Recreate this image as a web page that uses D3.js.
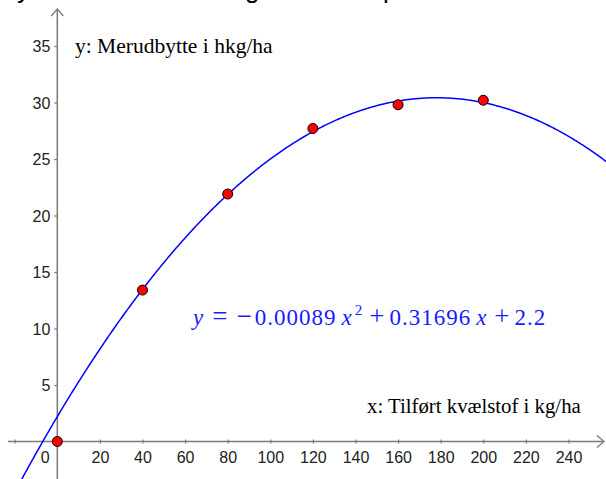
<!DOCTYPE html>
<html>
<head>
<meta charset="utf-8">
<script src="https://cdn.jsdelivr.net/npm/d3@7"></script>
<style>
  html, body { margin: 0; padding: 0; background: #fff; overflow: hidden; }
  svg { display: block; }
</style>
</head>
<body>
<svg id="chart" width="606" height="479"></svg>
<script>
// Tilført kvælstof (kg/ha) og målt merudbytte (hkg/ha)
const nitrogen = [0, 40, 80, 120, 160, 200];
const yieldGain = [0, 13.4, 21.9, 27.7, 29.8, 30.2];

// Regressionskoefficienter for y = a x^2 + b x + c
const coefA = -0.00089;
const coefB = 0.31696;
const coefC = 2.2;

const xTicks = [-20, 20, 40, 60, 80, 100, 120, 140, 160, 180, 200, 220, 240];
const yTicks = [5, 10, 15, 20, 25, 30, 35];

const W = 606, H = 479;
const svg = d3.select("#chart");

const x = d3.scaleLinear().domain([0, 240]).range([57.3, 568.5]);
const y = d3.scaleLinear().domain([0, 35]).range([441.5, 46]);

const axisColor = "#7a7a7a";
const tickFont = "'Liberation Sans', Arial, sans-serif";
const serifFont = "'Liberation Serif', 'Times New Roman', serif";

// Overskrift, kun nederste del synlig over kanten
const heading = svg.append("g").attr("font-family", tickFont).attr("font-size", 26).attr("fill", "#000");
[["y", 17], ["g", 245], ["p", 383]].forEach(([t, px]) => {
  heading.append("text").attr("x", px).attr("y", -2).text(t);
});

// Akser
const xAxis = d3.axisBottom(x).tickValues(xTicks).tickSize(3)
  .tickFormat(d => d < 0 ? "" : d);
const gx = svg.append("g").attr("transform", `translate(0,${y(0)})`).call(xAxis);
gx.select(".domain").remove();
gx.selectAll(".tick line").attr("stroke", axisColor).attr("stroke-width", 1.2).attr("y1", -2).attr("y2", 2);
gx.selectAll(".tick text").attr("font-family", tickFont).attr("font-size", 16)
  .attr("fill", "#222").attr("dy", 0).attr("y", 21);

const yAxis = d3.axisLeft(y).tickValues(yTicks).tickSize(3);
const gy = svg.append("g").attr("transform", `translate(${x(0)},0)`).call(yAxis);
gy.select(".domain").remove();
gy.selectAll(".tick line").attr("stroke", axisColor).attr("stroke-width", 1.2).attr("x2", -3);
gy.selectAll(".tick text").attr("font-family", tickFont).attr("font-size", 16)
  .attr("fill", "#222").attr("x", -7).attr("dy", "0.35em");

// Nulpunktets etiket
svg.append("text").attr("x", x(0) - 12).attr("y", y(0) + 21)
  .attr("text-anchor", "middle").attr("font-family", tickFont).attr("font-size", 16)
  .attr("fill", "#222").text("0");

// Aksestreger med pilespidser
svg.append("line").attr("x1", 8).attr("x2", 603).attr("y1", y(0)).attr("y2", y(0))
  .attr("stroke", axisColor).attr("stroke-width", 1.5);
svg.append("path").attr("d", `M${597},${y(0) - 6} L${604},${y(0)} L${597},${y(0) + 6}`)
  .attr("fill", "none").attr("stroke", axisColor).attr("stroke-width", 1.3);
svg.append("line").attr("x1", x(0)).attr("x2", x(0)).attr("y1", H).attr("y2", 10)
  .attr("stroke", axisColor).attr("stroke-width", 1.5);
svg.append("path").attr("d", `M${x(0) - 6},${16} L${x(0)},${9} L${x(0) + 6},${16}`)
  .attr("fill", "none").attr("stroke", axisColor).attr("stroke-width", 1.3);

// Aksetitler
svg.append("text").attr("x", 75).attr("y", 53).attr("font-family", serifFont)
  .attr("font-size", 21.5).attr("fill", "#000").text("y: Merudbytte i hkg/ha");
svg.append("text").attr("x", 367).attr("y", 413).attr("font-family", serifFont)
  .attr("font-size", 20.8).attr("fill", "#000").text("x: Tilført kvælstof i kg/ha");

// Parabel
const f = v => coefA * v * v + coefB * v + coefC;
const xs = d3.range(x.invert(0), x.invert(W) + 0.5, 0.5);
svg.append("defs").append("clipPath").attr("id", "plotClip")
  .append("rect").attr("x", 0).attr("y", 0).attr("width", W).attr("height", H);
svg.append("path")
  .datum(xs)
  .attr("clip-path", "url(#plotClip)")
  .attr("fill", "none").attr("stroke", "#0000ff").attr("stroke-width", 1.5)
  .attr("d", d3.line().x(d => x(d)).y(d => y(f(d))));

// Målepunkter
svg.append("g").selectAll("circle")
  .data(nitrogen.map((n, i) => [n, yieldGain[i]]))
  .join("circle")
  .attr("cx", d => x(d[0])).attr("cy", d => y(d[1])).attr("r", 5)
  .attr("fill", "#ff0000").attr("stroke", "#000").attr("stroke-width", 1);

// Ligning, sat som formel med matematisk afstand mellem leddene
const fmt = v => String(Math.abs(v));
const eqParts = [
  { t: "y", gap: 0, it: true },
  { t: "=", gap: 9, op: true },
  { t: "−", gap: 9, op: true },
  { t: fmt(coefA), gap: 3, num: true },
  { t: "x", gap: 5, it: true },
  { t: "2", gap: 3, sup: true },
  { t: "+", gap: 7, op: true, down: true },
  { t: fmt(coefB), gap: 5, num: true },
  { t: "x", gap: 5, it: true },
  { t: "+", gap: 8, op: true },
  { t: fmt(coefC), gap: 5, num: true }
];
const eq = svg.append("text").attr("x", 193).attr("y", 325)
  .attr("font-family", serifFont).attr("font-size", 23).attr("fill", "#1a1aff");
eq.selectAll("tspan").data(eqParts).join("tspan")
  .attr("dx", d => d.gap)
  .attr("dy", d => d.sup ? -10 : (d.down ? 10 : 0))
  .attr("font-size", d => d.sup ? 15 : (d.op ? 27 : 23))
  .attr("letter-spacing", d => d.num ? 1 : 0)
  .attr("font-style", d => d.it ? "italic" : "normal")
  .text(d => d.t);
</script>
</body>
</html>
